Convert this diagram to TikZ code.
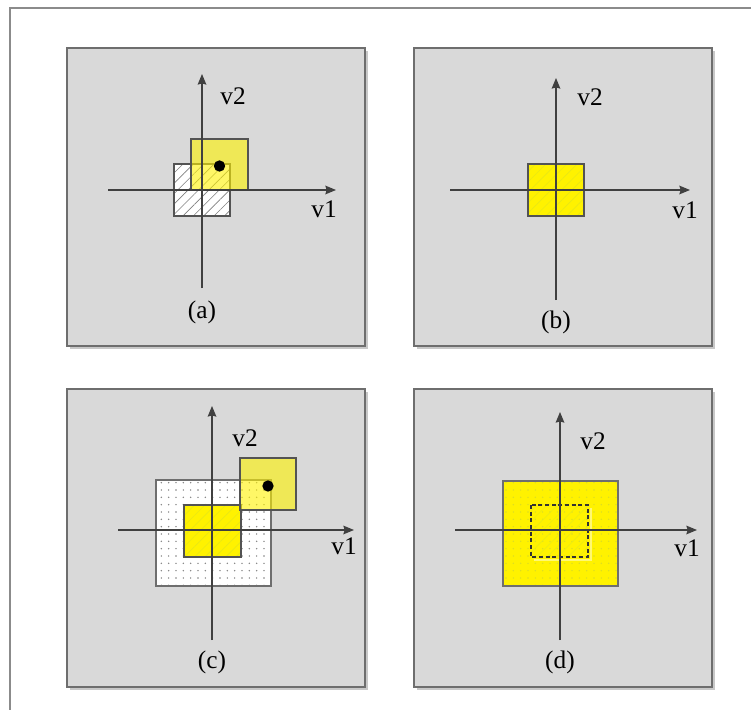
\documentclass[tikz,border=0pt]{standalone}
\usepackage{fontspec}
\setmainfont{Liberation Serif}
\usepackage{tikz}
\usetikzlibrary{arrows.meta, patterns.meta}
\definecolor{panelgray}{RGB}{217, 217, 217}
\definecolor{edgegray}{RGB}{110, 110, 110}
\definecolor{axisgray}{RGB}{64, 64, 64}
\definecolor{shadowgray}{RGB}{200, 200, 200}

\begin{document}
\begin{tikzpicture}[
                x=0.75pt, y=-0.75pt,
                panel/.style={
                    fill=panelgray,
                    draw=edgegray,
                    line width=1.1pt
                },
                shadow/.style={fill=shadowgray},
                axis/.style={-{Stealth[length=8pt, width=6.5pt, inset=1pt]},
                    line width=1.1pt, axisgray},
                lbl/.style={font=\fontsize{19}{21}\selectfont, inner sep=0pt},
                sq/.style={draw=axisgray!90, line width=0.8pt},
                hatch/.style={pattern={Lines[angle=45, distance=5.5pt, line width=0.5pt]},
                    pattern color=#1},
                dotted area/.style={pattern={Dots[distance=5.5pt, radius=0.6pt]},
                    pattern color=#1},
                shifted/.style={sq, fill=yellow, fill opacity=0.6},
                pt/.style={circle, fill=black, inner sep=0pt, minimum size=8.5pt}
            ]

            \useasboundingbox (0,0) rectangle (751,710);

            % Outer frame
            \draw [edgegray!80, line width=0.8pt] (10,710) -- (10,8) -- (751,8);

            % Panels
            \foreach \px/\py in {67/48, 414/48, 67/389, 414/389} {
                \fill [shadow] (\px+3,\py+3) rectangle (\px+301,\py+301);
                \draw [panel] (\px,\py) rectangle (\px+298,\py+298);
            }

            % Panel (a)
            \begin{scope}[shift={(202,190)}]
                \fill [white] (-28,-26) rectangle (28,26);
                \fill [hatch=gray] (-28,-26) rectangle (28,26);
                \draw [sq] (-28,-26) rectangle (28,26);
                \draw [shifted] (-11,-51) rectangle (46,0);
                \node (dota) [pt] at (17.5,-24) {};
                \coordinate (a1s) at (-94,0);
                \coordinate (a1e) at (134,0);
                \coordinate (a2s) at (0,98);
                \coordinate (a2e) at (0,-116);
                \draw [axis] (a1s) -- (a1e);
                \draw [axis] (a2s) -- (a2e);
                \node (v2a) [lbl] at (31,-94) {v2};
                \node (v1a) [lbl] at (122,19) {v1};
                \node (capa) [lbl] at (0,122) {(a)};
            \end{scope}

            % Panel (b)
            \begin{scope}[shift={(556,190)}]
                \fill [yellow] (-28,-26) rectangle (28,26);
                \fill [hatch=yellow!82!gray] (-28,-26) rectangle (28,26);
                \draw [sq] (-28,-26) rectangle (28,26);
                \coordinate (b1s) at (-106,0);
                \coordinate (b1e) at (134,0);
                \coordinate (b2s) at (0,110);
                \coordinate (b2e) at (0,-112);
                \draw [axis] (b1s) -- (b1e);
                \draw [axis] (b2s) -- (b2e);
                \node (v2b) [lbl] at (34,-93) {v2};
                \node (v1b) [lbl] at (129,20) {v1};
                \node (capb) [lbl] at (0,132) {(b)};
            \end{scope}

            % Panel (c)
            \begin{scope}[shift={(212,530)}]
                \fill [white] (-56,-50) rectangle (59,56);
                \fill [dotted area=gray] (-56,-50) rectangle (59,56);
                \draw [sq, edgegray] (-56,-50) rectangle (59,56);
                \fill [yellow] (-28,-25) rectangle (29,27);
                \fill [hatch=yellow!82!gray] (-28,-25) rectangle (29,27);
                \draw [sq] (-28,-25) rectangle (29,27);
                \draw [shifted] (28,-72) rectangle (84,-20);
                \node (dotc) [pt] at (56,-44) {};
                \coordinate (c1s) at (-94,0);
                \coordinate (c1e) at (142,0);
                \coordinate (c2s) at (0,110);
                \coordinate (c2e) at (0,-124);
                \draw [axis] (c1s) -- (c1e);
                \draw [axis] (c2s) -- (c2e);
                \node (v2c) [lbl] at (33,-92) {v2};
                \node (v1c) [lbl] at (132,16) {v1};
                \node (capc) [lbl] at (0,132) {(c)};
            \end{scope}

            % Panel (d)
            \begin{scope}[shift={(560,530)}]
                \fill [yellow] (-57,-49) rectangle (58,56);
                \fill [dotted area=yellow!72!gray] (-57,-49) rectangle (58,56);
                \draw [sq, edgegray] (-57,-49) rectangle (58,56);
                \fill [hatch=yellow!85!gray] (-29,-25) rectangle (28,27);
                \draw [yellow!55!white, line width=1pt] (-26,30) -- (31,30) -- (31,-22);
                \draw [sq, black!80, dash pattern=on 3pt off 2pt] (-29,-25) rectangle (28,27);
                \coordinate (d1s) at (-105,0);
                \coordinate (d1e) at (137,0);
                \coordinate (d2s) at (0,110);
                \coordinate (d2e) at (0,-118);
                \draw [axis] (d1s) -- (d1e);
                \draw [axis] (d2s) -- (d2e);
                \node (v2d) [lbl] at (33,-89) {v2};
                \node (v1d) [lbl] at (127,18) {v1};
                \node (capd) [lbl] at (0,132) {(d)};
            \end{scope}

            \end{tikzpicture}
\end{document}
